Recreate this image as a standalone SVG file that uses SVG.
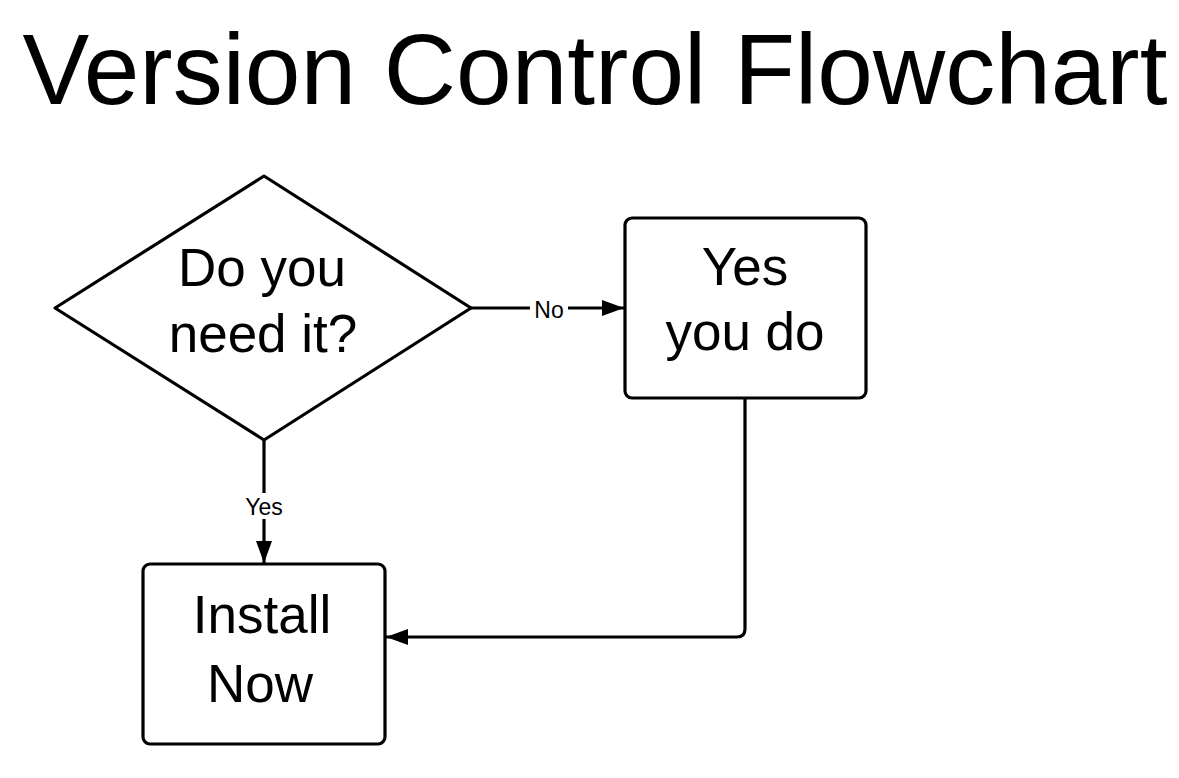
<svg xmlns="http://www.w3.org/2000/svg" width="1179" height="778" viewBox="0 0 1179 778">
<style>
text{font-family:"Liberation Sans",Arial,sans-serif;fill:#000;text-anchor:middle}
.title{font-size:100px}
.node{font-size:53px}
.lbl{font-size:23px}
.shape{fill:#fff;stroke:#000;stroke-width:3.2;stroke-linejoin:round}
.edge{fill:none;stroke:#000;stroke-width:3.2}
</style>
<defs>
<marker id="arr" viewBox="0 0 22 16" refX="22" refY="8" markerWidth="22" markerHeight="16" markerUnits="userSpaceOnUse" orient="auto">
<path d="M0,0 L22,8 L0,16 Z" fill="#000"/>
</marker>
</defs>
<rect width="1179" height="778" fill="#fff"/>
<text class="title" x="595" y="104">Version Control Flowchart</text>
<g id="connectors">
<path class="edge" d="M471,308 H624" marker-end="url(#arr)"/>
<path class="edge" d="M264,440 V563" marker-end="url(#arr)"/>
<path class="edge" d="M745,398 V629 Q745,637 737,637 H386" marker-end="url(#arr)"/>
<rect x="530" y="296" width="38" height="26" fill="#fff"/>
<text class="lbl" x="549" y="318">No</text>
<rect x="242" y="493" width="44" height="26" fill="#fff"/>
<text class="lbl" x="264" y="515">Yes</text>
</g>
<g id="decision">
<path class="shape" d="M264,176 L471,308 L264,440 L55,308 Z"/>
<text class="node" x="262" y="286">Do you</text>
<text class="node" x="263" y="352">need it?</text>
</g>
<g id="yes-you-do">
<rect class="shape" x="625" y="218" width="241" height="180" rx="7"/>
<text class="node" x="745" y="285">Yes</text>
<text class="node" x="745" y="350">you do</text>
</g>
<g id="install-now">
<rect class="shape" x="143" y="564" width="242" height="180" rx="7"/>
<text class="node" x="262" y="633">Install</text>
<text class="node" x="260" y="702" font-size="57">Now</text>
</g>
</svg>
